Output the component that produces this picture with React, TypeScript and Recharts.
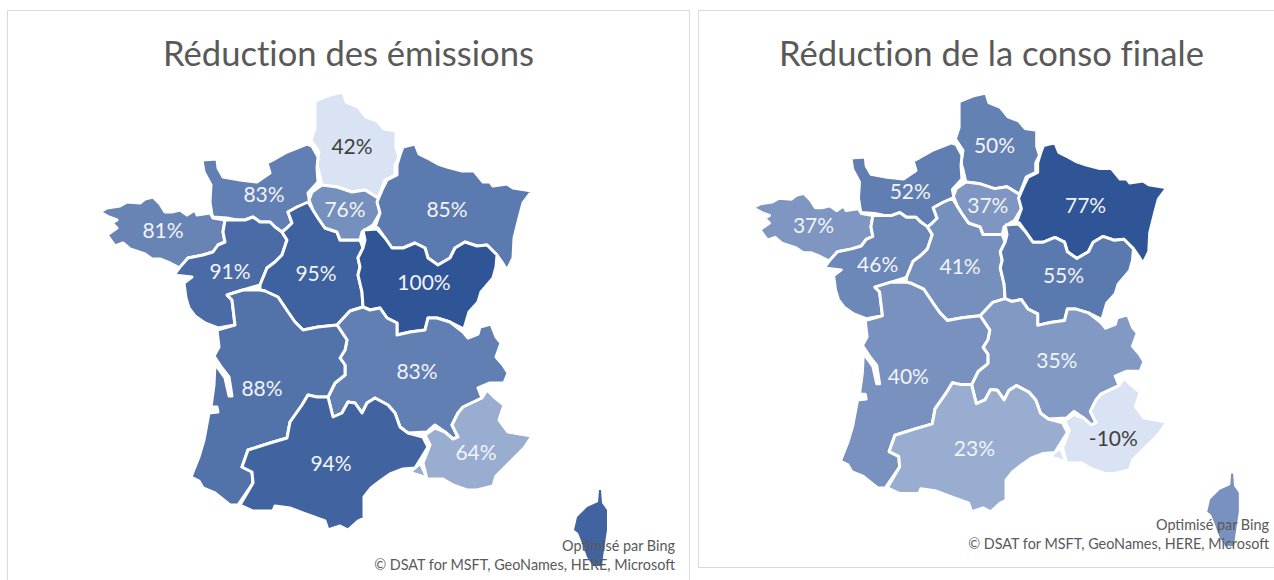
import { Scatter, ScatterChart, XAxis, YAxis } from "recharts";

type Pt = [number, number];

// outlines in map units, north at the top
const hautsDeFrance: Pt[] = [[315,101],[330,95],[343,92],[346,102],[358,107],[366,117],[377,121],[384,129],[396,131],[396,148],[399,157],[395,165],[395,175],[385,180],[382,188],[378,198],[370,193],[365,190],[352,192],[337,187],[322,185],[319,172],[317,165],[319,152],[311,140],[315,128]];
const normandie: Pt[] = [[202,160],[217,159],[218,168],[223,177],[240,180],[257,182],[270,173],[267,163],[273,160],[287,152],[307,144],[312,146],[318,157],[317,168],[318,182],[308,193],[310,203],[297,207],[288,212],[292,223],[287,228],[282,232],[275,227],[270,222],[260,222],[253,217],[245,220],[237,220],[227,218],[213,217],[212,215],[210,202],[211,185],[204,172]];
const bretagne: Pt[] = [[100,212],[107,208],[120,206],[127,202],[140,203],[145,199],[153,197],[160,204],[165,212],[172,212],[180,210],[187,215],[195,210],[197,215],[210,213],[213,218],[225,220],[223,232],[225,242],[218,245],[213,252],[203,255],[188,258],[180,268],[170,263],[160,259],[152,259],[145,254],[130,249],[123,243],[115,246],[107,235],[117,228],[112,223],[117,220],[109,217]];
const paysDeLaLoire: Pt[] = [[225,220],[237,220],[245,220],[253,217],[260,222],[270,222],[275,227],[282,232],[287,240],[282,255],[275,262],[267,268],[260,285],[243,290],[227,295],[232,300],[235,325],[218,328],[205,323],[195,316],[189,308],[186,298],[184,283],[192,277],[174,275],[180,267],[188,258],[203,255],[213,252],[218,245],[225,242],[223,232]];
const centre: Pt[] = [[308,202],[313,210],[318,218],[325,228],[337,232],[340,240],[350,240],[360,240],[363,248],[358,258],[360,267],[358,275],[362,292],[363,307],[350,311],[337,325],[318,327],[303,330],[295,322],[288,312],[282,303],[278,297],[265,291],[260,290],[260,285],[267,268],[275,262],[282,255],[287,240],[282,232],[287,228],[292,223],[288,212],[297,207]];
const ileDeFrance: Pt[] = [[322,185],[337,187],[352,192],[365,190],[378,198],[380,213],[373,225],[362,232],[360,240],[350,240],[340,240],[337,232],[325,228],[318,218],[313,210],[309,200],[312,192]];
const grandEst: Pt[] = [[403,147],[415,144],[419,154],[429,159],[438,164],[447,167],[462,171],[474,171],[483,182],[490,182],[493,186],[507,184],[513,188],[532,191],[523,203],[519,218],[514,238],[513,258],[507,270],[502,262],[497,255],[487,245],[477,246],[465,242],[455,248],[450,258],[438,265],[428,258],[425,248],[415,243],[403,248],[392,248],[385,238],[378,228],[375,227],[380,213],[377,202],[383,188],[387,180],[397,175],[397,165],[400,155]];
const bourgogne: Pt[] = [[363,230],[377,229],[385,238],[392,248],[403,248],[415,243],[425,248],[428,258],[438,265],[450,258],[455,248],[465,242],[477,246],[487,245],[497,255],[496,267],[493,278],[481,292],[478,302],[469,312],[464,329],[450,322],[437,318],[428,318],[425,330],[410,332],[397,335],[397,323],[387,318],[380,308],[370,310],[363,307],[362,292],[358,275],[360,267],[358,258],[363,248],[365,240]];
const auvergne: Pt[] = [[337,325],[350,311],[363,307],[370,310],[380,308],[387,318],[397,323],[397,335],[410,332],[425,330],[428,318],[437,318],[450,322],[463,332],[468,338],[478,334],[480,327],[491,324],[496,337],[501,343],[496,357],[503,365],[508,373],[504,383],[490,383],[478,388],[482,398],[463,407],[458,413],[452,425],[458,437],[453,439],[445,432],[435,425],[427,432],[408,433],[400,427],[395,413],[388,405],[375,398],[367,403],[362,413],[355,403],[348,402],[342,413],[333,417],[328,397],[335,383],[345,375],[345,365],[340,358],[345,350],[347,340]];
const aquitaine: Pt[] = [[227,295],[243,290],[260,290],[265,291],[278,297],[282,303],[288,312],[295,322],[303,330],[318,327],[337,325],[347,340],[345,350],[340,358],[345,365],[345,375],[335,383],[328,397],[317,397],[308,395],[302,405],[290,422],[287,438],[270,443],[248,450],[242,467],[252,472],[253,483],[238,505],[230,505],[215,493],[203,488],[199,481],[191,477],[199,457],[204,440],[209,413],[218,412],[217,407],[211,407],[214,385],[215,364],[225,378],[229,396],[232,396],[229,377],[222,368],[214,356],[219,347],[217,330],[235,325],[232,300]];
const occitanie: Pt[] = [[328,397],[333,417],[342,413],[348,402],[355,403],[362,413],[367,403],[375,398],[388,405],[395,413],[400,427],[408,433],[423,437],[428,447],[420,460],[415,468],[403,469],[390,474],[380,481],[371,488],[364,497],[364,518],[358,521],[348,530],[340,526],[328,530],[325,521],[303,513],[290,508],[275,506],[273,511],[253,511],[240,505],[253,483],[252,472],[242,467],[248,450],[270,443],[287,438],[290,422],[302,405],[308,395],[317,397]];
const paca: Pt[] = [[487,390],[494,397],[504,405],[499,420],[508,432],[520,434],[532,436],[524,448],[514,458],[508,464],[496,476],[493,486],[477,490],[467,490],[453,485],[443,479],[427,479],[423,463],[430,445],[425,435],[435,428],[445,432],[453,439],[458,437],[452,425],[458,413],[463,407],[482,398]];
const camargue: Pt[] = [[412,472],[420,465],[425,476]];
const corse: Pt[] = [[599,490],[601,490],[602,503],[607,510],[607,530],[603,557],[602,566],[593,566],[587,557],[582,543],[578,533],[574,530],[577,517],[587,507],[598,502]];

const regionOutlines = [hautsDeFrance, normandie, bretagne, paysDeLaLoire, centre, ileDeFrance, grandEst, bourgogne, auvergne, aquitaine, occitanie, paca, camargue, corse];
const labelSpots: Pt[] = [[352,147],[264,195],[163,231],[230,272],[316,274],[345,210],[447,210],[424,283],[417,372],[262,389],[331,464],[476,453]];

// same order as regionOutlines; camargue and corse carry no label
const emissions = [42, 83, 81, 91, 95, 76, 85, 100, 83, 88, 94, 64, 64, 94];
const conso = [50, 52, 37, 46, 41, 37, 77, 55, 35, 40, 23, -10, -10, 40];

const low = [218, 227, 243];
const high = [47, 85, 151];

function shade(v: number, values: number[]) {
  const min = Math.min(...values);
  const max = Math.max(...values);
  const t = (v - min) / (max - min);
  const c = low.map((l, i) => Math.round(l + (high[i] - l) * t));
  return `rgb(${c[0]},${c[1]},${c[2]})`;
}

const FONT = "Lato, 'Open Sans', sans-serif";

function PctLabel(props: any) {
  const { cx, cy, payload } = props;
  return (
    <text x={cx} y={cy} dy="0.35em" textAnchor="middle" fontFamily={FONT} fontSize={21} fill={payload.dark ? "#404040" : "#f2f4f9"}>
      {payload.label}
    </text>
  );
}

function MapChart({ values, width, height, xDomain, yDomain }: { values: number[]; width: number; height: number; xDomain: number[]; yDomain: number[] }) {
  const min = Math.min(...values);
  const labels = labelSpots.map((p, i) => ({ x: p[0], y: p[1], label: `${values[i]}%`, dark: values[i] === min }));
  return (
    <ScatterChart width={width} height={height} margin={{ top: 0, right: 0, bottom: 0, left: 0 }}>
      <XAxis type="number" dataKey="x" domain={xDomain} hide allowDataOverflow />
      <YAxis type="number" dataKey="y" domain={yDomain} reversed hide allowDataOverflow />
      {regionOutlines.map((outline, i) => (
        <Scatter
          key={i}
          data={[...outline, outline[0]].map((p) => ({ x: p[0], y: p[1] }))}
          fill={shade(values[i], values)}
          line={{
            stroke: outline === corse ? "none" : "#fff",
            strokeWidth: outline === camargue ? 1 : 3,
            strokeLinejoin: "round",
            fill: shade(values[i], values)
          }}
          lineJointType="linear"
          shape={() => null}
          isAnimationActive={false}
        />
      ))}
      <Scatter data={labels} shape={PctLabel} isAnimationActive={false} />
    </ScatterChart>
  );
}

const panel: React.CSSProperties = { position: "absolute", border: "1px solid #d9d9d9", boxSizing: "border-box", background: "#fff" };
const title: React.CSSProperties = { position: "absolute", top: 33, fontFamily: FONT, fontSize: 34.6, color: "#595959", whiteSpace: "nowrap", lineHeight: "40px", fontVariantLigatures: "none" };
const credit: React.CSSProperties = { position: "absolute", fontFamily: FONT, fontSize: 14.4, color: "#595959", textAlign: "right", lineHeight: "19px", whiteSpace: "nowrap" };

export default function App() {
  return (
    <div style={{ position: "absolute", left: 0, top: 0, width: 1274, height: 580, overflow: "hidden", background: "#fff" }}>
      <div style={{ ...panel, left: 7, top: 10, width: 683, height: 580 }} />
      <div style={{ ...panel, left: 698, top: 10, width: 600, height: 558 }} />
      <div style={{ position: "absolute", left: 0, top: 0 }}>
        <MapChart values={emissions} width={690} height={580} xDomain={[0, 690]} yDomain={[0, 580]} />
      </div>
      <div style={{ position: "absolute", left: 690, top: 0 }}>
        <MapChart values={conso} width={584} height={570} xDomain={[34.1, 643.7]} yDomain={[-5.3, 590.9]} />
      </div>
      <div style={{ ...title, left: 163 }}>Réduction des émissions</div>
      <div style={{ ...title, left: 779 }}>Réduction de la conso finale</div>
      <div style={{ ...credit, right: 1274 - 675, top: 536 }}>Optimisé par Bing<br />© DSAT for MSFT, GeoNames, HERE, Microsoft</div>
      <div style={{ ...credit, right: 1274 - 1269, top: 515 }}>Optimisé par Bing<br />© DSAT for MSFT, GeoNames, HERE, Microsoft</div>
    </div>
  );
}
